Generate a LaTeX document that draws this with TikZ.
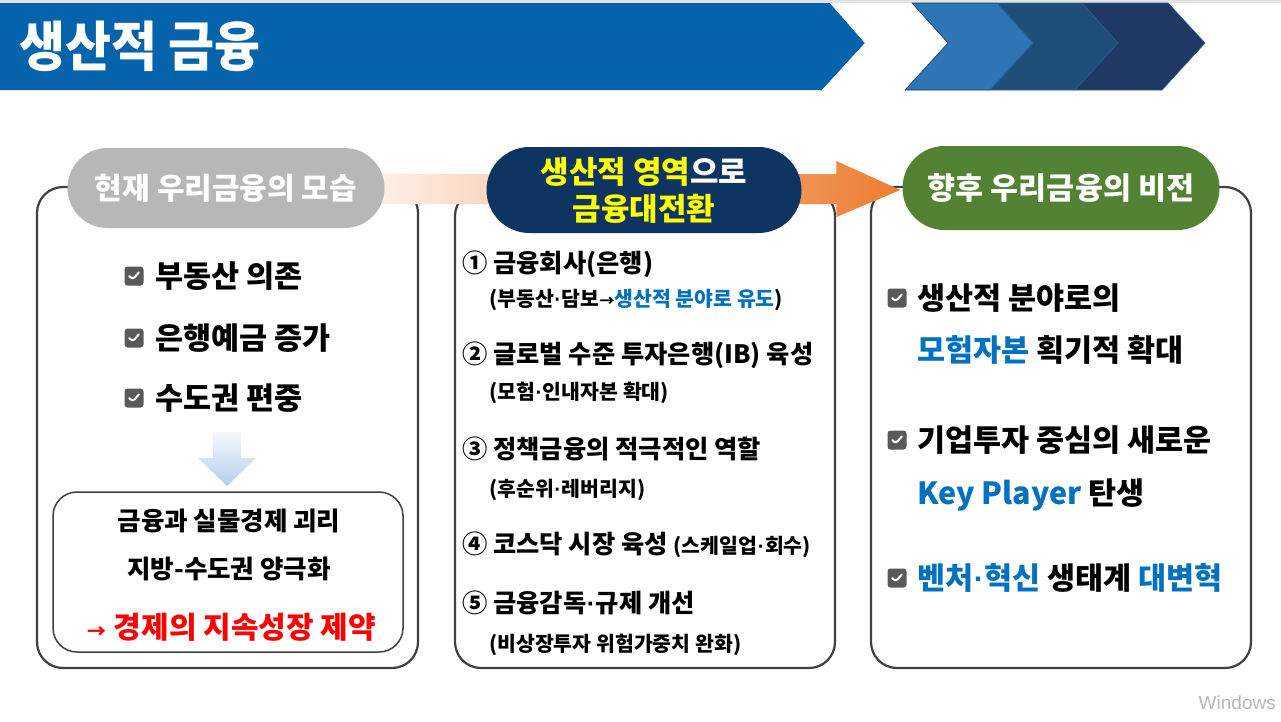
\documentclass[tikz,border=0pt]{standalone}
\usepackage{fontspec}
\setmainfont{Noto Sans CJK KR}
\newfontfamily\winfont{Liberation Sans}
\usetikzlibrary{shapes.misc,calc}
\definecolor{bannerblue}{HTML}{0563AC}
\definecolor{chevA}{HTML}{2E75B6}
\definecolor{chevB}{HTML}{1F4E79}
\definecolor{chevC}{HTML}{203864}
\definecolor{topgrey}{HTML}{E3E3E3}
\definecolor{panelline}{HTML}{404040}
\definecolor{pillgrey}{HTML}{B7B7B7}
\definecolor{pillnavy}{HTML}{0E3462}
\definecolor{pillgreen}{HTML}{548235}
\definecolor{txtblue}{HTML}{0070C0}
\definecolor{txtred}{HTML}{FF0000}
\definecolor{txtyellow}{HTML}{FFFF00}
\definecolor{chkgrey}{HTML}{595959}
\definecolor{peach}{HTML}{FDEFE6}
\definecolor{orangeA}{HTML}{ED7D31}
\definecolor{arrowtop}{HTML}{F5F9FD}
\definecolor{arrowbot}{HTML}{B2CFEC}
\newcommand{\fs}[1]{\fontsize{#1}{#1}\selectfont}
\newcommand{\mdot}{{\winfont\bfseries\kern0.5pt·\kern0.5pt}}
\tikzset{
  panelbox/.style={draw=panelline, line width=2.2pt, rounded corners=26pt, inner sep=0pt},
  innerbox/.style={draw=panelline, line width=1.5pt, rounded corners=24pt, inner sep=0pt},
  pill/.style={rounded rectangle, inner sep=0pt, text=white, align=center},
  chkbox/.style={fill=chkgrey, rounded corners=3pt, minimum size=19pt, inner sep=0pt,
    path picture={\draw[white, line width=2pt, line cap=round, line join=round]
      ($(path picture bounding box.center)+(-4.8,0)$) -- ++(3.4,3.6) -- ++(6.2,-7.2);}},
  item/.style={anchor=west, inner sep=0pt, font=\bfseries\fs{30.5}},
  mainitem/.style={anchor=west, inner sep=0pt, font=\bfseries\fs{25.3}},
  subitem/.style={anchor=west, inner sep=0pt, font=\bfseries\fs{20.5}},
  innertxt/.style={inner sep=0pt, font=\bfseries\fs{25.5}},
}
\begin{document}
\begin{tikzpicture}[x=1pt,y=-1pt]
\useasboundingbox (0,0) rectangle (1281,721);
\fill[white] (0,0) rectangle (1281,721);
\fill[topgrey] (0,0) rectangle (1281,3);
% banner
\fill[bannerblue] (0,3) -- (830,3) -- (865,43) -- (822,90) -- (0,90) -- cycle;
\fill[white] (830,3) -- (912,3) -- (948,43) -- (905,90) -- (822,90) -- (865,43) -- cycle;
\filldraw[fill=chevA, draw=chevC, line width=0.6pt] (912,3) -- (997,3) -- (1033,43) -- (990,90) -- (905,90) -- (948,43) -- cycle;
\filldraw[fill=chevB, draw=chevA!70!chevB, line width=0.6pt] (997,3) -- (1082,3) -- (1118,43) -- (1075,90) -- (990,90) -- (1033,43) -- cycle;
\filldraw[fill=chevC, draw=chevA!60!chevC, line width=0.6pt] (1082,3) -- (1168,3) -- (1205,43) -- (1162,90) -- (1075,90) -- (1118,43) -- cycle;
\node[anchor=west, inner sep=0pt, text=white, font=\bfseries\fs{50}] (title) at (19,46) {\scalebox{1}[1.08]{생산적 금융}};

% panels
\node[panelbox, minimum width=381pt, minimum height=481pt] (leftbox) at (227.5,427.5) {};
\node[panelbox, minimum width=380pt, minimum height=478pt] (midbox) at (645,429) {};
\node[panelbox, minimum width=380pt, minimum height=481pt] (rightbox) at (1061,427.5) {};

% pills (placed first as coordinates for the arrow)
\path (226,188) coordinate (curC) (1061,188) coordinate (futC);
\node[pill, minimum width=317pt, minimum height=80pt] (cur) at (curC) {};
\node[pill, minimum width=317pt, minimum height=84pt] (fut) at (futC) {};

% big gradient arrow
\shade[left color=peach, right color=orangeA]
  ($(cur.east)+(-6,-14)$) -- ($(fut.west)+(-66,-14)$) -- ($(fut.west)+(-66,-27)$)
  -- ($(fut.west)+(-2,2)$) -- ($(fut.west)+(-66,29)$) -- ($(fut.west)+(-66,16)$)
  -- ($(cur.east)+(-6,16)$) -- cycle;

\node[pill, fill=pillgrey, minimum width=317pt, minimum height=80pt, font=\bfseries\fs{30}] at (curC) {현재 우리금융의 모습};
\node[pill, fill=pillnavy, minimum width=315pt, minimum height=86pt, font=\bfseries\fs{31}] (mid) at (644,190)
  {\textcolor{txtyellow}{생산적 영역}으로\\[6pt]\textcolor{txtyellow}{금융대전환}};
\node[pill, fill=pillgreen, minimum width=317pt, minimum height=84pt, font=\bfseries\fs{30.5}] at (futC) {향후 우리금융의 비전};

% left content
\node[chkbox] (c1) at (134,276) {};
\node[chkbox] (c2) at (134,338) {};
\node[chkbox] (c3) at (134,398) {};
\node[item] (l1) at (155,276) {부동산 의존};
\node[item] (l2) at (155,338) {은행예금 증가};
\node[item] (l3) at (155,398) {수도권 편중};
\shade[top color=arrowtop, bottom color=arrowbot]
  (213,432) -- (241,432) -- (241,458) -- (256,458) -- (227,486) -- (198,458) -- (213,458) -- cycle;
\node[innerbox, minimum width=350pt, minimum height=160pt] (inner) at (228,572) {};
\node[innertxt] (i1) at (229,521) {금융과 실물경제 괴리};
\node[innertxt] (i2) at (229,569) {지방-수도권 양극화};
\node[innertxt, text=txtred, font=\bfseries\fs{30}] (i3) at (232,627) {{\fs{19}→} 경제의 지속성장 제약};

% middle content
\node[mainitem] (m1) at (462,264) {① 금융회사(은행)};
\node[subitem] (s1) at (489,300) {(부동산\mdot 담보{\fs{15}→}\textcolor{txtblue}{생산적 분야로 유도})};
\node[mainitem] (m2) at (462,355) {② 글로벌 수준 투자은행(IB) 육성};
\node[subitem] (s2) at (489,393) {(모험\mdot 인내자본 확대)};
\node[mainitem] (m3) at (462,449) {③ 정책금융의 적극적인 역할};
\node[subitem] (s3) at (489,490) {(후순위\mdot 레버리지)};
\node[mainitem] (m4) at (462,545) {④ 코스닥 시장 육성 {\fs{20.5}(스케일업\mdot 회수)}};
\node[mainitem] (m5) at (462,603) {⑤ 금융감독\mdot 규제 개선};
\node[subitem] (s5) at (489,645) {(비상장투자 위험가중치 완화)};

% right content
\node[chkbox] (r1c) at (897,298) {};
\node[chkbox] (r2c) at (897,440) {};
\node[chkbox] (r3c) at (897,578) {};
\node[item] (r1a) at (917,298) {생산적 분야로의};
\node[item] (r1b) at (917,350) {\textcolor{txtblue}{모험자본} 획기적 확대};
\node[item] (r2a) at (917,440) {기업투자 중심의 새로운};
\node[item] (r2b) at (917,495) {\textcolor{txtblue}{Key Player} 탄생};
\node[item] (r3a) at (917,578) {\textcolor{txtblue}{벤처\mdot 혁신} 생태계 \textcolor{txtblue}{대변혁}};

\node[anchor=east, inner sep=0pt, text=black!28, font=\winfont\fs{19}] (win) at (1276,703) {Windows};
\end{tikzpicture}
\end{document}
